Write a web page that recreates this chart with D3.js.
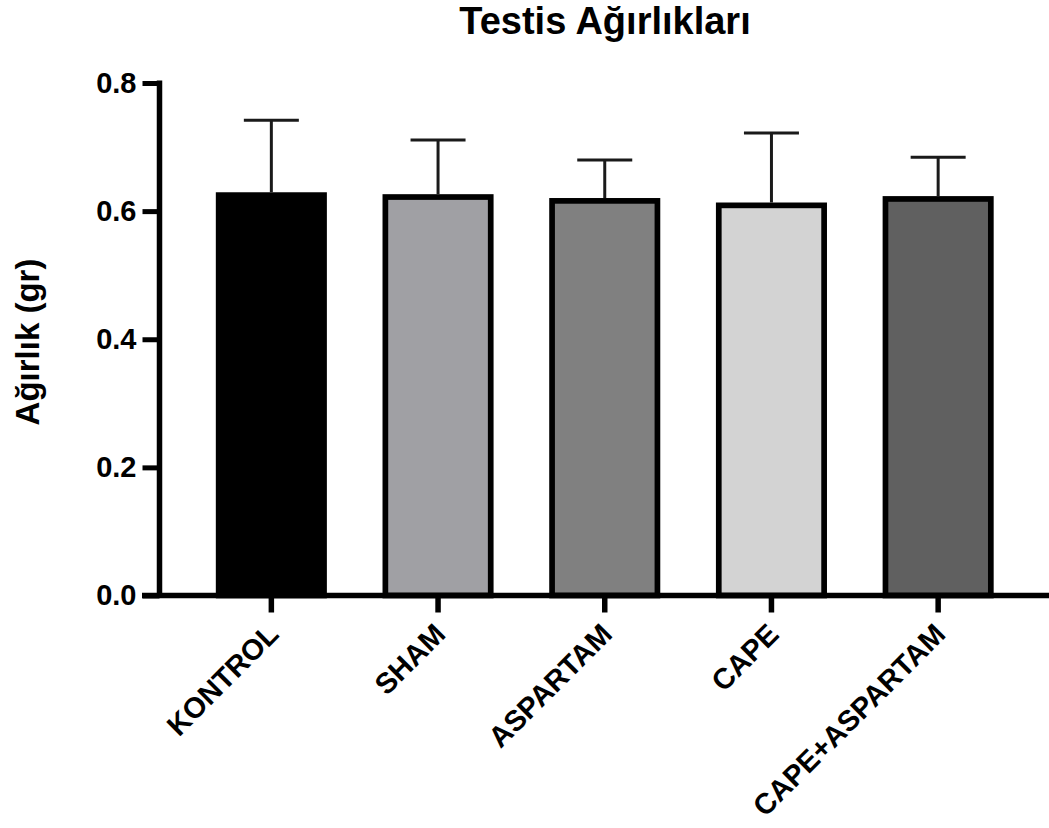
<!DOCTYPE html>
<html><head><meta charset="utf-8">
<script src="https://cdn.jsdelivr.net/npm/d3@7"></script>
<style>body{margin:0;background:#fff} text{font-family:"Liberation Sans",Arial,sans-serif;font-weight:bold}</style>
</head><body><svg id="c" width="1049" height="828"></svg>
<script>
const categories = ["KONTROL","SHAM","ASPARTAM","CAPE","CAPE+ASPARTAM"];
const means = [0.625,0.622,0.616,0.609,0.619];
const errors = [0.117,0.089,0.064,0.113,0.065];
const colors = ["#000000","#a0a0a4","#808080","#d3d3d3","#606060"];
const yTicks = [0,0.2,0.4,0.6,0.8];
const titleText = "Testis Ağırlıkları";
const yLabelText = "Ağırlık (gr)";

const data = categories.map((c,i)=>({cat:c, mean:means[i], err:errors[i], color:colors[i]}));
const svg = d3.select("#c");
const x = d3.scaleBand().domain(categories).range([188,1021.5]).paddingInner(0.368).paddingOuter(0.184);
const y = d3.scaleLinear().domain([0,0.8]).range([595.5,83]);

// bars
svg.append("g").selectAll("rect").data(data).join("rect")
  .attr("x", d=>x(d.cat)).attr("width", x.bandwidth())
  .attr("y", d=>y(d.mean)).attr("height", d=>y(0)-y(d.mean))
  .attr("fill", d=>d.color).attr("stroke","#000").attr("stroke-width",5.7);

// error bars
const eb = svg.append("g").attr("stroke","#1a1a1a").attr("stroke-width",3);
eb.selectAll("line.v").data(data).join("line").attr("class","v")
  .attr("x1", d=>x(d.cat)+x.bandwidth()/2).attr("x2", d=>x(d.cat)+x.bandwidth()/2)
  .attr("y1", d=>y(d.mean)-2.85).attr("y2", d=>y(d.mean+d.err));
eb.selectAll("line.c").data(data).join("line").attr("class","c")
  .attr("x1", d=>x(d.cat)+x.bandwidth()/2-27.5).attr("x2", d=>x(d.cat)+x.bandwidth()/2+27.5)
  .attr("y1", d=>y(d.mean+d.err)).attr("y2", d=>y(d.mean+d.err));

// y axis
const yAxis = d3.axisLeft(y).tickValues(yTicks).tickFormat(d3.format(".1f")).tickSize(17).tickSizeOuter(0).tickPadding(6);
const gy = svg.append("g").attr("transform","translate(159.5,0)").call(yAxis);
gy.select(".domain").attr("stroke","#000").attr("stroke-width",5.5).attr("d", `M0,${y(0.8)-2.5}V${y(0)}`);
gy.selectAll(".tick line").attr("stroke","#000").attr("stroke-width",5);
gy.selectAll(".tick text").attr("font-size",29).attr("fill","#000").style("font-family","Liberation Sans").style("font-weight","bold");

// x axis
const xAxis = d3.axisBottom(x).tickSize(17).tickSizeOuter(0).tickFormat("");
const gx = svg.append("g").attr("transform",`translate(0,${y(0)})`).call(xAxis);
gx.select(".domain").attr("stroke","#000").attr("stroke-width",5.5).attr("d","M142,0H1049");
gx.selectAll(".tick line").attr("stroke","#000").attr("stroke-width",5.5);

// category labels
svg.append("g").selectAll("text").data(categories).join("text")
  .attr("transform", d=>`translate(${x(d)+x.bandwidth()/2+9},636) rotate(-45)`)
  .attr("text-anchor","end").attr("font-size",29).attr("fill","#000").text(d=>d);

// title
svg.append("text").attr("x",605).attr("y",34).attr("text-anchor","middle")
  .attr("font-size",38).attr("fill","#000").text(titleText);

// y label
svg.append("text").attr("transform","translate(39,342) rotate(-90)").attr("text-anchor","middle")
  .attr("font-size",33).attr("fill","#000").text(yLabelText);
</script></body></html>
